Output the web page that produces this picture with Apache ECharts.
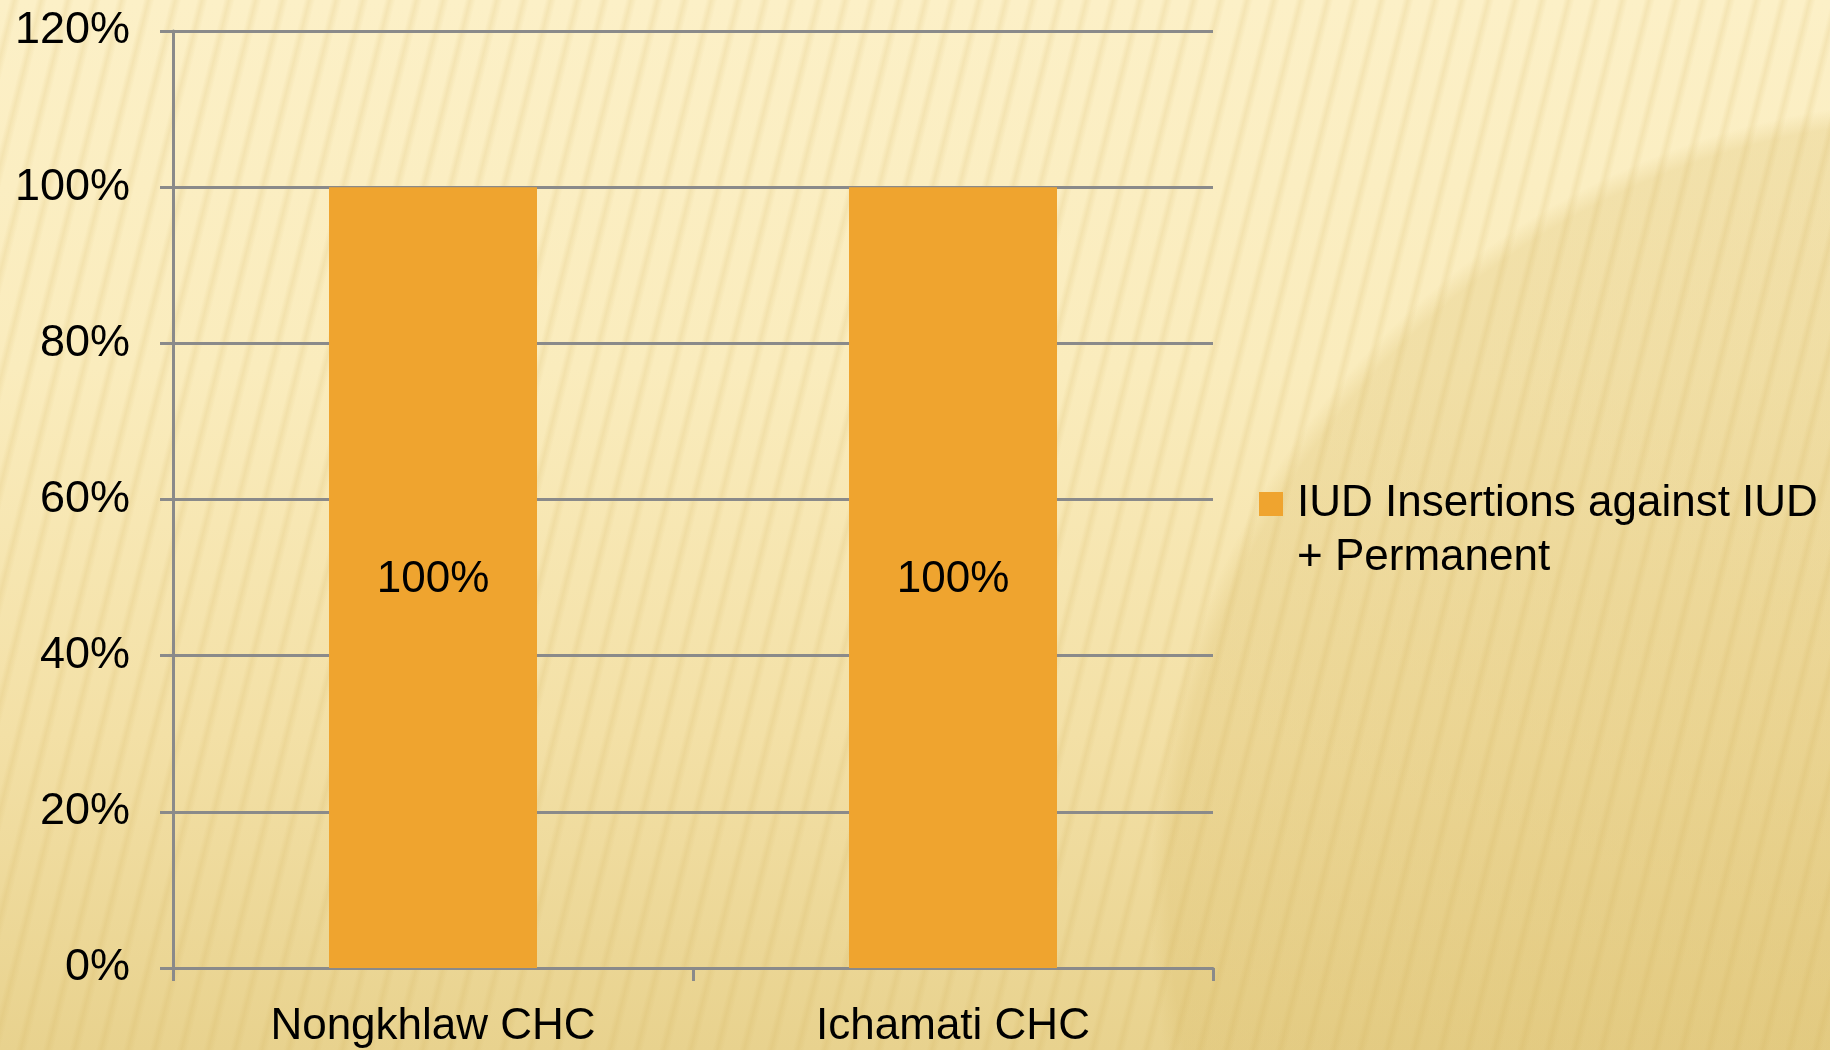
<!DOCTYPE html>
<html>
<head>
<meta charset="utf-8">
<script src="https://cdn.jsdelivr.net/npm/echarts@6/dist/echarts.min.js"></script>
<style>
    html, body { margin: 0; padding: 0; }
    #bg {
        width: 1830px; height: 1050px; position: relative; overflow: hidden;
        background:
            repeating-linear-gradient(104deg, rgba(255,255,255,0) 0px, rgba(255,255,255,0) 9px, rgba(205,170,80,0.16) 14px, rgba(255,255,255,0) 20px, rgba(255,255,255,0) 26px),
            radial-gradient(circle at 1950px 900px, rgba(215,185,100,0.35) 0px, rgba(215,185,100,0.25) 780px, rgba(215,185,100,0) 800px),
            linear-gradient(to bottom, #fcf0c7 0%, #faecbd 35%, #f3e0a6 70%, #e8d28e 100%);
    }
    #chart { width: 1830px; height: 1050px; position: absolute; left: 0; top: 0; }
</style>
</head>
<body>
<div id="bg"><div id="chart"></div></div>
<script>
// 数据
var categories = ['Nongkhlaw CHC', 'Ichamati CHC'];
var seriesName = 'IUD Insertions against IUD + Permanent';
var values = [1.0, 1.0];
var yMin = 0, yMax = 1.2, yStep = 0.2;

var font = 'Liberation Sans';
var gray = '#8a8a8a';

var myChart = echarts.init(document.getElementById('chart'));
var option = {
    backgroundColor: 'transparent',
    animation: false,
    grid: { left: 173, top: 31, width: 1040, height: 937 },
    legend: {
        left: 1254,
        top: 418,
        itemWidth: 24,
        itemHeight: 24,
        icon: 'rect',
        data: [seriesName],
        // 空的第一行让首行文字与图例方块对齐
        formatter: function () {
            return '\nIUD Insertions against IUD\n+ Permanent';
        },
        textStyle: {
            fontFamily: font, fontSize: 44, color: '#000',
            lineHeight: 54, padding: [0, 0, 0, 9]
        }
    },
    xAxis: {
        type: 'category',
        data: categories,
        axisLine: { lineStyle: { color: gray, width: 3 } },
        axisTick: { show: true, length: 13, lineStyle: { color: gray, width: 3 } },
        axisLabel: { margin: 37, fontFamily: font, fontSize: 44, color: '#000' }
    },
    yAxis: {
        type: 'value',
        min: yMin, max: yMax, interval: yStep,
        axisLine: { show: true, lineStyle: { color: gray, width: 3 } },
        axisTick: { show: true, length: 13, lineStyle: { color: gray, width: 3 } },
        splitLine: { lineStyle: { color: gray, width: 3 } },
        axisLabel: {
            margin: 43, fontFamily: font, fontSize: 45, color: '#000',
            formatter: function (v) { return Math.round(v * 100) + '%'; }
        }
    },
    series: [{
        name: seriesName,
        type: 'bar',
        barWidth: '40%',
        itemStyle: { color: '#efa42f' },
        label: {
            show: true, position: 'inside', offset: [0, 2],
            fontFamily: font, fontSize: 44, color: '#000',
            formatter: function (p) { return Math.round(p.value * 100) + '%'; }
        },
        data: values
    }]
};
option && myChart.setOption(option);
</script>
</body>
</html>
